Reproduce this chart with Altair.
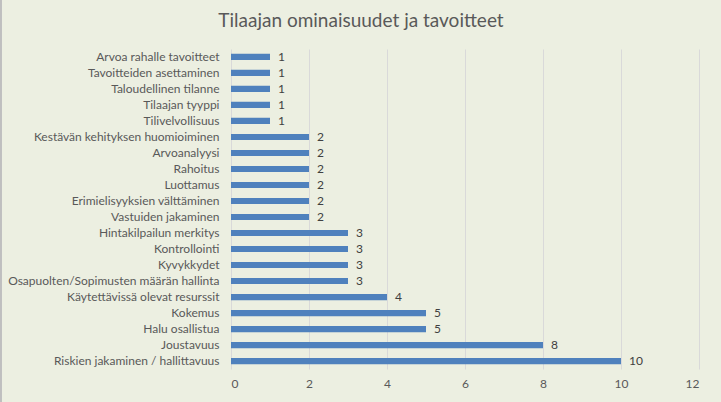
import altair as alt
import pandas as pd

categories = [
    "Arvoa rahalle tavoitteet",
    "Tavoitteiden asettaminen",
    "Taloudellinen tilanne",
    "Tilaajan tyyppi ",
    "Tilivelvollisuus",
    "Kestävän kehityksen huomioiminen",
    "Arvoanalyysi",
    "Rahoitus",
    "Luottamus",
    "Erimielisyyksien välttäminen",
    "Vastuiden jakaminen",
    "Hintakilpailun merkitys",
    "Kontrollointi",
    "Kyvykkydet",
    "Osapuolten/Sopimusten määrän hallinta",
    "Käytettävissä olevat resurssit",
    "Kokemus",
    "Halu osallistua",
    "Joustavuus",
    "Riskien jakaminen / hallittavuus",
]
values = [1, 1, 1, 1, 1, 2, 2, 2, 2, 2, 2, 3, 3, 3, 3, 4, 5, 5, 8, 10]
x_ticks = [0, 2, 4, 6, 8, 10, 12]
title_text = ["Tilaajan ominaisuudet ja tavoitteet"]

df = pd.DataFrame({"cat": categories, "val": values})
tdf = pd.DataFrame({"t": title_text})

FONT = "Lato"
TXT = "#595959"

y_enc = alt.Y("cat:N", sort=categories, title=None,
              scale=alt.Scale(paddingInner=0.62, paddingOuter=0.3),
              axis=alt.Axis(ticks=False, domain=False, labelPadding=12,
                            labelFontSize=12, labelColor=TXT, labelFont=FONT,
                            labelLimit=300))
x_enc = alt.X("val:Q", title=None,
              scale=alt.Scale(domain=[0, 12], nice=False),
              axis=alt.Axis(values=x_ticks, ticks=False, domain=False,
                            grid=True, gridColor="#D9D9D9", labelPadding=9,
                            labelFontSize=12, labelColor=TXT, labelFont=FONT))

bars = alt.Chart(df).mark_bar(color="#4F81BD").encode(x=x_enc, y=y_enc)
labels = alt.Chart(df).mark_text(align="left", dx=8, fontSize=12,
                                 color="#404040", font=FONT).encode(
    x="val:Q", y=alt.Y("cat:N", sort=categories), text="val:Q")
border = alt.Chart(df).mark_rule(color="#BFBFBF", strokeWidth=1.5).encode(
    x=alt.value(-230.5), y=alt.value(-49), y2=alt.value(353))
title = alt.Chart(tdf).mark_text(fontSize=19, font=FONT, color=TXT,
                                 align="center", baseline="middle").encode(
    x=alt.value(130), y=alt.value(-28), text="t:N")

chart = alt.layer(bars, labels, border, title).properties(
    width=468, height=320,
    padding={"left": 231, "top": 49, "right": 22, "bottom": 33},
    autosize=alt.AutoSizeParams(type="none"),
    background="#ECEFE1",
).configure_view(stroke=None)

chart.save("out.html", embed_options={"renderer": "svg", "actions": False})
